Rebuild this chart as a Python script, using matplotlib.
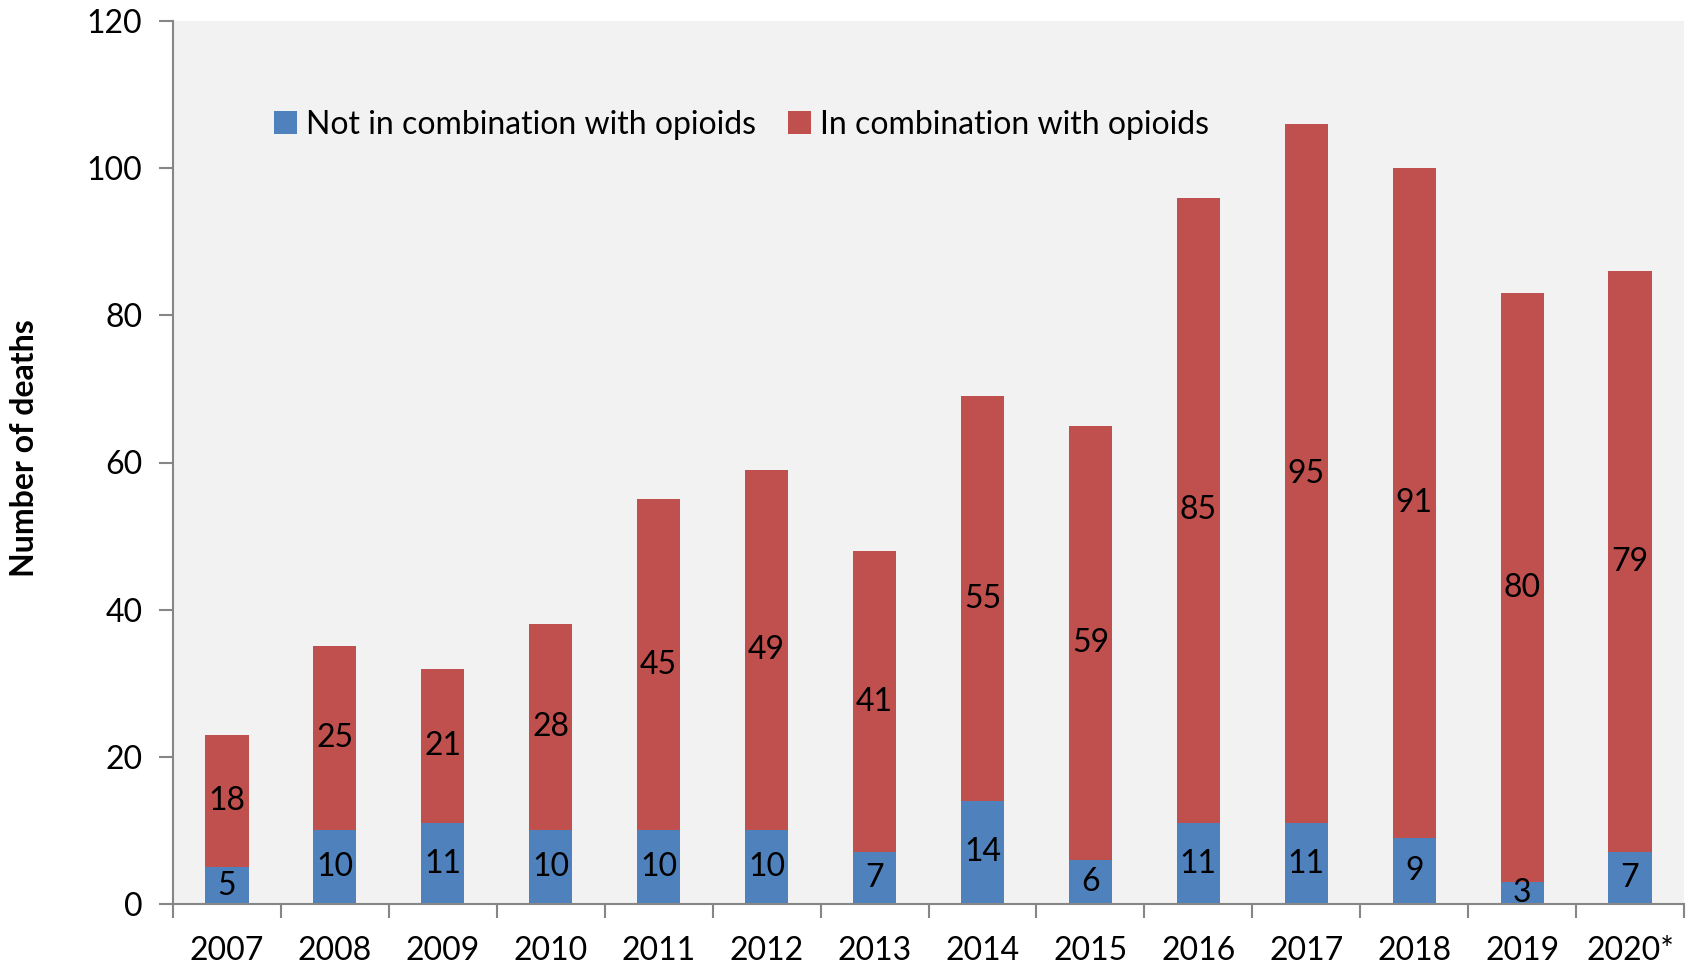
import matplotlib
matplotlib.use("Agg")
import matplotlib.pyplot as plt
import numpy as np

years = ["2007", "2008", "2009", "2010", "2011", "2012", "2013", "2014",
         "2015", "2016", "2017", "2018", "2019", "2020*"]
not_opioids = [5, 10, 11, 10, 10, 10, 7, 14, 6, 11, 11, 9, 3, 7]
with_opioids = [18, 25, 21, 28, 45, 49, 41, 55, 59, 85, 95, 91, 80, 79]

plt.rcParams['font.family'] = ['Lato', 'DejaVu Sans']
BLUE = "#4F81BD"
RED = "#C0504D"
FS = 23

fig = plt.figure(figsize=(16.87, 9.66), dpi=100)
ax = fig.add_axes([173/1687, 1 - 904/966, (1684-173)/1687, (904-21)/966])
ax.set_facecolor("#F2F2F2")

x = np.arange(len(years))
b1 = ax.bar(x, not_opioids, width=0.4, color=BLUE, label="Not in combination with opioids")
b2 = ax.bar(x, with_opioids, width=0.4, bottom=not_opioids, color=RED, label="In combination with opioids")
ax.bar_label(b1, labels=[str(v) for v in not_opioids], label_type="center", fontsize=FS)
ax.bar_label(b2, labels=[str(v) for v in with_opioids], label_type="center", fontsize=FS)

ax.set_xlim(-0.5, len(years) - 0.5)
ax.set_ylim(0, 120)
ax.set_yticks(range(0, 121, 20))
ax.tick_params(axis="y", labelsize=FS, length=10, color="#868686", width=1.5, pad=12)
ax.set_xticks(x)
ax.set_xticklabels(years)
ax.set_xticks(np.arange(-0.5, len(years), 1), minor=True)
ax.tick_params(axis="x", which="major", length=0, labelsize=FS, pad=23)
ax.tick_params(axis="x", which="minor", length=10, color="#868686", width=1.5)
for s in ["top", "right"]:
    ax.spines[s].set_visible(False)
for s in ["left", "bottom"]:
    ax.spines[s].set_color("#868686")
    ax.spines[s].set_linewidth(1.5)

ax.set_ylabel("Number of deaths", fontsize=FS, fontweight="bold")
ax.yaxis.set_label_coords(-0.089, 0.516)

ax.legend(loc="upper left", bbox_to_anchor=(0.048, 0.932), ncol=2, frameon=False,
          fontsize=FS, handlelength=0.7, handleheight=0.7, handletextpad=0.3,
          columnspacing=1.0)

fig.savefig("out.png", dpi=100)
